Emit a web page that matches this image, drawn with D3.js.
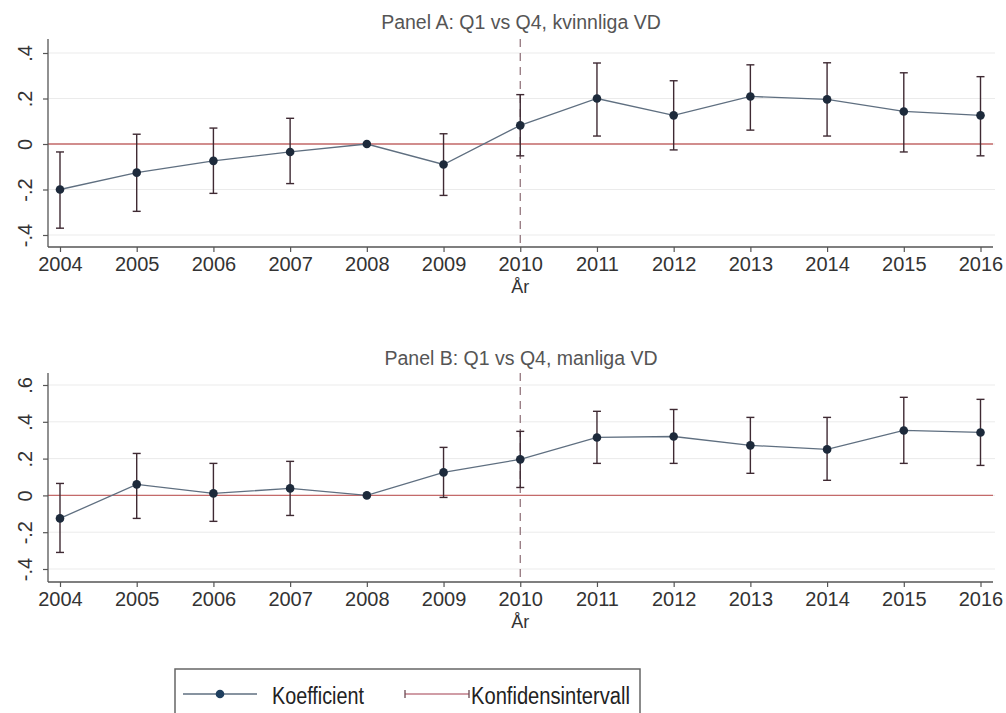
<!DOCTYPE html>
<html>
<head>
<meta charset="utf-8">
<script src="https://cdn.jsdelivr.net/npm/d3@7"></script>
<style>
  html, body { margin: 0; padding: 0; background: #fff; }
  svg { display: block; }
  text { font-family: "Liberation Sans", Arial, sans-serif; }
</style>
</head>
<body>
<svg id="chart" width="1006" height="713"></svg>
<script>
// Event-study coefficients by year, with 95% confidence bounds
const years = [2004, 2005, 2006, 2007, 2008, 2009, 2010, 2011, 2012, 2013, 2014, 2015, 2016];

// Panel A: Q1 vs Q4, female CEOs
const coefA  = [-0.200, -0.126, -0.074, -0.035, 0, -0.090, 0.082, 0.200, 0.126, 0.209, 0.196, 0.143, 0.126];
const lowerA = [-0.370, -0.296, -0.217, -0.174, null, -0.226, -0.052, 0.035, -0.026, 0.061, 0.035, -0.035, -0.052];
const upperA = [-0.035, 0.043, 0.070, 0.113, null, 0.045, 0.217, 0.356, 0.278, 0.348, 0.357, 0.313, 0.296];

// Panel B: Q1 vs Q4, male CEOs
const coefB  = [-0.125, 0.060, 0.011, 0.038, 0, 0.125, 0.196, 0.315, 0.320, 0.272, 0.250, 0.353, 0.342];
const lowerB = [-0.310, -0.125, -0.141, -0.109, null, -0.011, 0.043, 0.174, 0.174, 0.120, 0.082, 0.174, 0.163];
const upperB = [0.065, 0.228, 0.174, 0.185, null, 0.261, 0.348, 0.457, 0.467, 0.424, 0.424, 0.533, 0.522];

const ticksA = [-0.4, -0.2, 0, 0.2, 0.4];
const ticksB = [-0.4, -0.2, 0, 0.2, 0.4, 0.6];
const tickLabel = v => v === 0 ? "0" : (v < 0 ? "-" : "") + String(Math.abs(v)).replace(/^0/, "");

const titles = ["Panel A: Q1 vs Q4, kvinnliga VD", "Panel B: Q1 vs Q4, manliga VD"];
const xTitle = "År";
const refYear = 2010;
const legendLabels = ["Koefficient", "Konfidensintervall"];

const colLine = "#5f6f80";
const colMarker = "#1d2a3b";
const colCI = "#3f2a33";
const colZero = "#c46a6a";
const colGrid = "#ebebeb";
const colAxis = "#555";
const colText = "#333";

const svg = d3.select("#chart");

const x = d3.scaleLinear().domain([2004, 2016]).range([60, 980.5]);

const panels = [
  { title: titles[0], titleY: 29, coef: coefA, lo: lowerA, hi: upperA, ticks: ticksA,
    top: 39, bottom: 247, y: d3.scaleLinear().domain([-0.4, 0.4]).range([235, 53]) },
  { title: titles[1], titleY: 365, coef: coefB, lo: lowerB, hi: upperB, ticks: ticksB,
    top: 373, bottom: 582, y: d3.scaleLinear().domain([-0.4, 0.6]).range([569, 385]) }
];

const left = 48, right = 995;

panels.forEach(p => {
  const g = svg.append("g");
  const y = p.y;

  // horizontal grid
  g.selectAll(".grid").data(p.ticks).enter().append("line")
    .attr("x1", left + 1).attr("x2", right)
    .attr("y1", d => y(d)).attr("y2", d => y(d))
    .attr("stroke", colGrid).attr("stroke-width", 1);

  // reference year
  g.append("line")
    .attr("x1", x(refYear)).attr("x2", x(refYear))
    .attr("y1", p.top).attr("y2", p.bottom)
    .attr("stroke", "#8a6a72").attr("stroke-width", 1.2)
    .attr("stroke-dasharray", "8,6");

  // zero line
  g.append("line")
    .attr("x1", left).attr("x2", right - 2)
    .attr("y1", y(0)).attr("y2", y(0))
    .attr("stroke", colZero).attr("stroke-width", 1.3);

  // confidence intervals
  const ci = years.map((yr, i) => ({ yr, lo: p.lo[i], hi: p.hi[i] })).filter(d => d.lo !== null);
  const cg = g.selectAll(".ci").data(ci).enter().append("g");
  cg.append("line")
    .attr("x1", d => x(d.yr)).attr("x2", d => x(d.yr))
    .attr("y1", d => y(d.lo)).attr("y2", d => y(d.hi))
    .attr("stroke", colCI).attr("stroke-width", 1.4);
  ["lo", "hi"].forEach(k => {
    cg.append("line")
      .attr("x1", d => x(d.yr) - 4).attr("x2", d => x(d.yr) + 4)
      .attr("y1", d => y(d[k])).attr("y2", d => y(d[k]))
      .attr("stroke", colCI).attr("stroke-width", 1.4);
  });

  // coefficient line and markers
  const pts = years.map((yr, i) => ({ yr, v: p.coef[i] }));
  g.append("path").datum(pts)
    .attr("d", d3.line().x(d => x(d.yr)).y(d => y(d.v)))
    .attr("fill", "none").attr("stroke", colLine).attr("stroke-width", 1.3);
  g.selectAll(".pt").data(pts).enter().append("circle")
    .attr("cx", d => x(d.yr)).attr("cy", d => y(d.v)).attr("r", 4.3)
    .attr("fill", colMarker);

  // y axis
  const ya = g.append("g").attr("transform", `translate(${left},0)`)
    .call(d3.axisLeft(y).tickValues(p.ticks).tickFormat(tickLabel).tickSize(5).tickPadding(10));
  ya.select(".domain").attr("d", `M0,${p.top}V${p.bottom}`).attr("stroke", colAxis).attr("stroke-width", 1.3);
  ya.selectAll(".tick line").attr("stroke", colAxis).attr("stroke-width", 1.2);
  ya.selectAll(".tick text")
    .attr("font-size", 20).attr("fill", colText)
    .attr("text-anchor", "middle").attr("dy", 0)
    .attr("transform", "translate(-21,0) rotate(-90)")
    .attr("x", 0).attr("y", 0)
    .attr("dominant-baseline", "middle");

  // x axis
  const xa = g.append("g").attr("transform", `translate(0,${p.bottom})`)
    .call(d3.axisBottom(x).tickValues(years).tickFormat(d3.format("d")).tickSize(5).tickPadding(5));
  xa.select(".domain").attr("d", `M${left},0H${right - 2}`).attr("stroke", colAxis).attr("stroke-width", 1.3);
  xa.selectAll(".tick line").attr("stroke", colAxis).attr("stroke-width", 1.2);
  xa.selectAll(".tick text").attr("font-size", 20).attr("fill", colText);

  g.append("text").attr("x", x(refYear)).attr("y", p.bottom + 46)
    .attr("text-anchor", "middle").attr("font-size", 18).attr("fill", colText).text(xTitle);

  g.append("text").attr("x", 521).attr("y", p.titleY)
    .attr("text-anchor", "middle").attr("font-size", 19.5).attr("fill", "#555").text(p.title);
});

// legend
const lg = svg.append("g");
lg.append("rect").attr("x", 175).attr("y", 669).attr("width", 465).attr("height", 60)
  .attr("fill", "#fff").attr("stroke", "#666").attr("stroke-width", 1.5);
lg.append("line").attr("x1", 183).attr("x2", 257).attr("y1", 694).attr("y2", 694)
  .attr("stroke", colLine).attr("stroke-width", 1.5);
lg.append("circle").attr("cx", 220).attr("cy", 694).attr("r", 4.3).attr("fill", "#1f3f5f");
lg.append("text").attr("x", 272).attr("y", 704).attr("font-size", 23)
  .attr("textLength", 92).attr("lengthAdjust", "spacingAndGlyphs")
  .attr("fill", "#222").text(legendLabels[0]);
lg.append("line").attr("x1", 405).attr("x2", 469).attr("y1", 694).attr("y2", 694)
  .attr("stroke", "#c07c88").attr("stroke-width", 1.3);
[405, 469].forEach(cx => lg.append("line").attr("x1", cx).attr("x2", cx).attr("y1", 690).attr("y2", 698)
  .attr("stroke", "#6a4a52").attr("stroke-width", 1.3));
lg.append("text").attr("x", 471).attr("y", 704).attr("font-size", 23)
  .attr("textLength", 159).attr("lengthAdjust", "spacingAndGlyphs")
  .attr("fill", "#222").text(legendLabels[1]);
</script>
</body>
</html>
